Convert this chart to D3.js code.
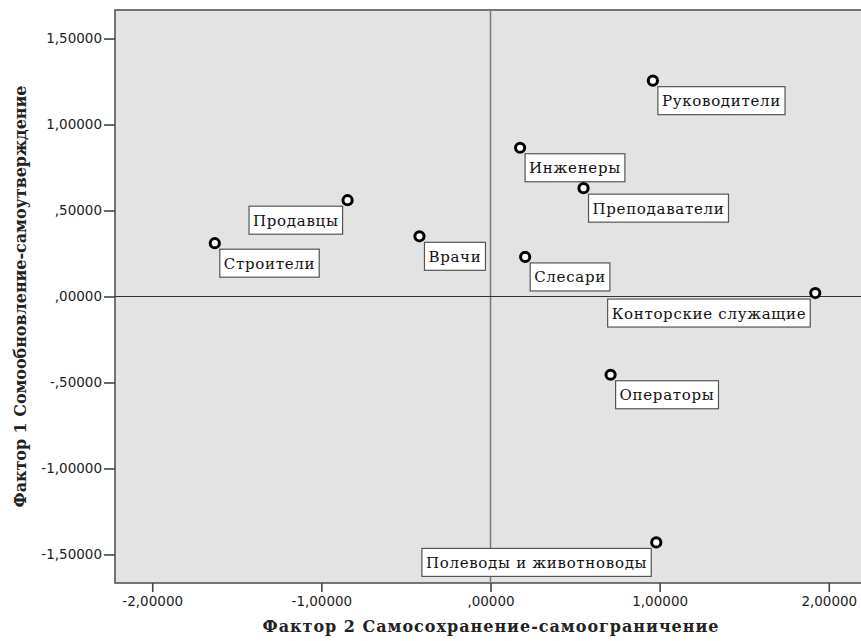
<!DOCTYPE html>
<html>
<head>
<meta charset="utf-8">
<script src="https://cdn.jsdelivr.net/npm/d3@7"></script>
<style>
  body { margin: 0; background: #fff; }
  svg { display: block; }
</style>
</head>
<body>
<svg id="chart" width="861" height="641"></svg>
<script>
// professions and their factor scores
const categories = ["Руководители", "Инженеры", "Преподаватели", "Продавцы", "Строители",
    "Врачи", "Слесари", "Конторские служащие", "Операторы", "Полеводы и животноводы"];
const factor2 = [0.96, 0.175, 0.55, -0.845, -1.63, -0.42, 0.205, 1.92, 0.71, 0.98];
const factor1 = [1.255, 0.865, 0.63, 0.56, 0.31, 0.35, 0.23, 0.02, -0.455, -1.43];
const labelSide = ["right", "right", "right", "left", "right", "right", "right", "left", "right", "left"];

const xTicks = [-2, -1, 0, 1, 2];
const yTicks = [-1.5, -1, -0.5, 0, 0.5, 1, 1.5];

const xTitle = "Фактор 2 Самосохранение-самоограничение";
const yTitle = "Фактор 1 Сомообновление-самоутверждение";

const svg = d3.select("#chart");

const plotLeft = 115, plotTop = 10, plotRight = 866, plotBottom = 583;

const x = d3.scaleLinear().domain([-2.22, 2.22]).range([plotLeft, plotRight]);
const y = d3.scaleLinear().domain([-1.666, 1.666]).range([plotBottom, plotTop]);

// 1.5 -> "1,50000", 0 -> ",00000", -0.5 -> "-,50000"
const fmt = v => v.toFixed(5).replace(".", ",").replace(/^(-?)0,/, "$1,");

svg.append("rect")
    .attr("x", plotLeft).attr("y", plotTop)
    .attr("width", plotRight - plotLeft).attr("height", plotBottom - plotTop)
    .attr("fill", "#e3e3e3")
    .attr("stroke", "#555").attr("stroke-width", 1.6);

// reference lines through zero
svg.append("line")
    .attr("x1", x(0)).attr("x2", x(0))
    .attr("y1", plotTop).attr("y2", plotBottom)
    .attr("stroke", "#7a7a7a").attr("stroke-width", 1.5);

svg.append("line")
    .attr("x1", plotLeft).attr("x2", plotRight)
    .attr("y1", y(0)).attr("y2", y(0))
    .attr("stroke", "#333").attr("stroke-width", 1.2);

const xAxis = svg.append("g")
    .attr("transform", `translate(0,${plotBottom})`)
    .call(d3.axisBottom(x).tickValues(xTicks).tickFormat(fmt).tickSize(9).tickPadding(4));

const yAxis = svg.append("g")
    .attr("transform", `translate(${plotLeft},0)`)
    .call(d3.axisLeft(y).tickValues(yTicks).tickFormat(fmt).tickSize(11).tickPadding(2));

[xAxis, yAxis].forEach(g => {
    g.select(".domain").remove();
    g.selectAll(".tick line").attr("stroke", "#444").attr("stroke-width", 1.6);
    g.selectAll(".tick text")
        .attr("fill", "#222")
        .style("font-family", "'DejaVu Sans', sans-serif")
        .style("font-size", "13.5px");
});

svg.append("text")
    .attr("x", x(0)).attr("y", 632)
    .attr("text-anchor", "middle")
    .attr("textLength", 456).attr("lengthAdjust", "spacing")
    .style("font-family", "'DejaVu Serif', serif")
    .style("font-weight", "bold")
    .style("font-size", "16px")
    .attr("fill", "#222")
    .text(xTitle);

svg.append("text")
    .attr("transform", `translate(26,${y(0)}) rotate(-90)`)
    .attr("text-anchor", "middle")
    .attr("textLength", 422).attr("lengthAdjust", "spacing")
    .style("font-family", "'DejaVu Serif', serif")
    .style("font-weight", "bold")
    .style("font-size", "16px")
    .attr("fill", "#222")
    .text(yTitle);

// labels first so the markers sit on top of the box corners
const labels = svg.append("g");
categories.forEach((name, i) => {
    const px = x(factor2[i]), py = y(factor1[i]);
    const g = labels.append("g");
    const box = g.append("rect")
        .attr("fill", "#fff")
        .attr("stroke", "#555").attr("stroke-width", 1.2);
    const t = g.append("text")
        .style("font-family", "'DejaVu Serif', serif")
        .style("font-size", "15px")
        .style("letter-spacing", "0.7px")
        .attr("fill", "#111")
        .text(name);
    const w = t.node().getComputedTextLength() + 8;
    const bx = labelSide[i] === "right" ? px + 5 : px - 5 - w;
    const by = py + 6;
    box.attr("x", bx).attr("y", by).attr("width", w).attr("height", 28);
    t.attr("x", bx + 4).attr("y", by + 19.5);
});

svg.append("g")
    .selectAll("circle")
    .data(categories)
    .join("circle")
    .attr("cx", (d, i) => x(factor2[i]))
    .attr("cy", (d, i) => y(factor1[i]))
    .attr("r", 4.6)
    .attr("fill", "#fff")
    .attr("stroke", "#000")
    .attr("stroke-width", 3);
</script>
</body>
</html>
